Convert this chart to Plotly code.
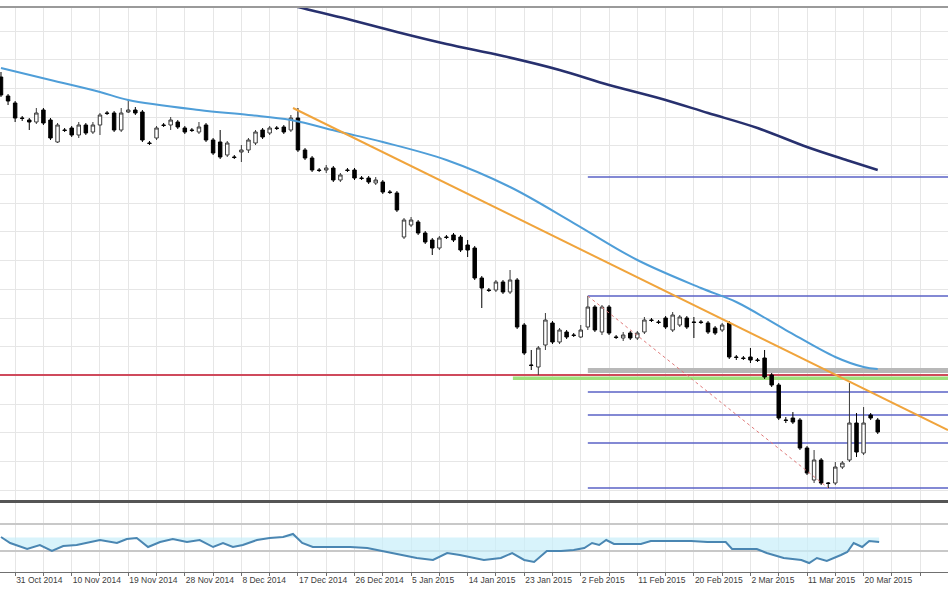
import plotly.graph_objects as go

# ---------------- data ----------------
opens = [1.2815,1.2720,1.2685,1.2610,1.2600,1.2590,1.2650,1.2600,1.2490,1.2550,
         1.2560,1.2525,1.2575,1.2540,1.2575,1.2635,1.2635,1.2550,1.2640,1.2650,
         1.2640,1.2485,1.2510,1.2575,1.2575,1.2590,1.2560,1.2550,1.2540,1.2575,
         1.2500,1.2490,1.2425,1.2415,1.2440,1.2450,1.2485,1.2550,1.2535,1.2560,
         1.2565,1.2550,1.2610,1.2450,1.2410,1.2350,1.2350,1.2360,1.2300,1.2350,
         1.2350,1.2310,1.2310,1.2285,1.2290,1.2240,1.2235,1.2015,1.2075,1.2090,
         1.2035,1.2000,1.1960,1.2015,1.2025,1.2015,1.1975,1.1960,1.1810,1.1750,
         1.1750,1.1790,1.1740,1.1800,1.1575,1.1375,1.1365,1.1475,1.1585,1.1490,
         1.1540,1.1525,1.1515,1.1565,1.1665,1.1540,1.1665,1.1515,1.1510,1.1535,
         1.1510,1.1540,1.1600,1.1590,1.1610,1.1550,1.1575,1.1610,1.1590,1.1590,
         1.1585,1.1560,1.1550,1.1585,1.1415,1.1410,1.1415,1.1400,1.1410,1.1325,
         1.1275,1.1100,1.1110,1.1100,1.0960,1.0800,1.0900,1.0785,1.0785,1.0865,
         1.0900,1.1085,1.0935,1.1125,1.1100]
highs = [1.2840,1.2730,1.2695,1.2620,1.2610,1.2660,1.2660,1.2610,1.2585,1.2560,
         1.2570,1.2590,1.2585,1.2590,1.2635,1.2645,1.2645,1.2660,1.2700,1.2665,
         1.2650,1.2495,1.2570,1.2585,1.2615,1.2600,1.2570,1.2560,1.2590,1.2585,
         1.2510,1.2550,1.2495,1.2425,1.2475,1.2510,1.2550,1.2560,1.2570,1.2570,
         1.2575,1.2625,1.2660,1.2460,1.2420,1.2360,1.2375,1.2370,1.2335,1.2360,
         1.2360,1.2320,1.2320,1.2315,1.2300,1.2250,1.2245,1.2110,1.2115,1.2100,
         1.2045,1.2010,1.2020,1.2025,1.2035,1.2025,1.2000,1.1970,1.1820,1.1760,
         1.1800,1.1800,1.1850,1.1810,1.1585,1.1450,1.1470,1.1635,1.1595,1.1560,
         1.1550,1.1535,1.1575,1.1720,1.1675,1.1675,1.1675,1.1525,1.1540,1.1545,
         1.1545,1.1615,1.1610,1.1600,1.1620,1.1640,1.1625,1.1620,1.1615,1.1600,
         1.1595,1.1570,1.1585,1.1595,1.1425,1.1420,1.1460,1.1410,1.1450,1.1335,
         1.1285,1.1115,1.1140,1.1110,1.0970,1.0950,1.0910,1.0790,1.0890,1.0895,
         1.1285,1.1135,1.1165,1.1135,1.1110]
lows = [1.2715,1.2675,1.2590,1.2595,1.2550,1.2580,1.2575,1.2500,1.2485,1.2540,
        1.2515,1.2510,1.2525,1.2530,1.2525,1.2625,1.2540,1.2540,1.2635,1.2625,
        1.2490,1.2475,1.2500,1.2565,1.2550,1.2555,1.2530,1.2540,1.2530,1.2490,
        1.2425,1.2405,1.2415,1.2405,1.2390,1.2435,1.2475,1.2505,1.2525,1.2550,
        1.2530,1.2540,1.2440,1.2400,1.2340,1.2340,1.2335,1.2290,1.2290,1.2340,
        1.2300,1.2300,1.2280,1.2275,1.2230,1.2230,1.2140,1.2005,1.2065,1.2025,
        1.1980,1.1925,1.1950,1.2005,1.1990,1.1940,1.1915,1.1800,1.1660,1.1740,
        1.1740,1.1730,1.1730,1.1555,1.1425,1.1350,1.1325,1.1450,1.1480,1.1480,
        1.1505,1.1515,1.1510,1.1550,1.1540,1.1525,1.1525,1.1505,1.1495,1.1500,
        1.1500,1.1530,1.1590,1.1580,1.1555,1.1540,1.1565,1.1555,1.1510,1.1580,
        1.1530,1.1525,1.1540,1.1405,1.1400,1.1400,1.1385,1.1390,1.1305,1.1265,
        1.1100,1.1085,1.1080,1.0950,1.0825,1.0785,1.0775,1.0760,1.0775,1.0855,
        1.0890,1.0915,1.0925,1.1100,1.1030]
closes = [1.2725,1.2695,1.2610,1.2608,1.2590,1.2635,1.2585,1.2510,1.2575,1.2548,
          1.2525,1.2575,1.2535,1.2575,1.2625,1.2633,1.2550,1.2635,1.2650,1.2635,
          1.2500,1.2483,1.2560,1.2573,1.2600,1.2565,1.2540,1.2548,1.2565,1.2500,
          1.2435,1.2415,1.2485,1.2413,1.2450,1.2500,1.2540,1.2515,1.2560,1.2558,
          1.2540,1.2610,1.2450,1.2410,1.2350,1.2348,1.2360,1.2300,1.2325,1.2348,
          1.2310,1.2308,1.2290,1.2300,1.2240,1.2238,1.2150,1.2100,1.2100,1.2035,
          1.1990,1.1960,1.2010,1.2013,1.2000,1.1950,1.1950,1.1810,1.1760,1.1748,
          1.1790,1.1740,1.1800,1.1565,1.1435,1.1373,1.1460,1.1600,1.1490,1.1550,
          1.1515,1.1523,1.1550,1.1665,1.1550,1.1665,1.1535,1.1513,1.1525,1.1510,
          1.1535,1.1600,1.1598,1.1588,1.1565,1.1625,1.1615,1.1565,1.1588,1.1588,
          1.1540,1.1535,1.1575,1.1415,1.1413,1.1408,1.1400,1.1398,1.1315,1.1275,
          1.1110,1.1098,1.1090,1.0960,1.0835,1.0900,1.0785,1.0783,1.0865,1.0885,
          1.1085,1.0940,1.1085,1.1110,1.1040]
bars = list(range(len(opens)))

# moving averages (sampled bar index, value)
ma50_x = [0, 7, 14, 18, 28, 35, 41, 48, 54, 63, 72, 81, 90, 99, 104, 111, 118, 122, 124]
ma50_v = [1.2860, 1.2800, 1.2740, 1.2700, 1.2650, 1.2625, 1.2600, 1.2540, 1.2490, 1.2400,
          1.2265, 1.2085, 1.1900, 1.1760, 1.1690, 1.1550, 1.1415, 1.1365, 1.1355]
ma200_x = [36, 42, 49, 56, 63, 71, 79, 86, 93, 100, 107, 114, 120, 124]
ma200_v = [1.3220, 1.3165, 1.3105, 1.3040, 1.2980, 1.2920, 1.2850, 1.2775, 1.2710, 1.2635,
           1.2560, 1.2465, 1.2395, 1.2350]

# oscillator (sub panel)
rsi_x = [0, 1.3, 3.7, 5.5, 7.2, 8.8, 10.7, 12.2, 14, 16.4, 17.8, 19.2, 20.8, 22.5, 24.3, 26.3,
         28.1, 30, 31.4, 32.8, 34.2, 36.2, 38, 39.9, 41.3, 42.6, 44.1, 47, 49.4, 51.8, 54, 56.4,
         58.8, 61.1, 63.1, 64.9, 66.9, 68.3, 70.7, 72.3, 74, 75.4, 77.2, 79.2, 81, 82.5, 83.6,
         84.6, 85.6, 86.7, 90.5, 91.9, 95.2, 97.6, 99.9, 102.5, 103.4, 106.9, 108.3, 110.7,
         113.2, 114.3, 115.4, 116.8, 118.8, 119.7, 120.6, 121.8, 122.8, 124.2]
rsi_v = [50.7, 41.9, 33.0, 38.9, 30.0, 37.4, 38.9, 41.9, 46.3, 41.9, 47.8, 49.3, 35.9, 43.3, 47.8, 43.3,
         46.3, 35.9, 41.9, 35.9, 38.9, 46.3, 49.3, 50.7, 55.2, 41.9, 35.9, 35.9, 35.9, 34.4, 30.0, 24.1,
         19.6, 16.7, 27.0, 24.1, 19.6, 16.7, 19.6, 27.0, 16.7, 13.7, 30.0, 30.0, 31.5, 34.4, 41.9,
         38.9, 46.3, 40.4, 40.4, 44.8, 44.8, 44.8, 43.3, 43.3, 33.0, 33.0, 27.0, 19.6,
         16.7, 12.2, 19.6, 15.2, 24.1, 28.5, 41.9, 35.9, 44.8, 43.3]
rsi_levels = [30, 70]

# drawing objects
trend_x = [41.3, 133.94]
trend_v = [1.2660, 1.1050]
fib_start = 83
fib_levels = [1.2315, 1.1720, 1.1240, 1.1125, 1.0985, 1.0760]
fib_band = [1.1335, 1.1360]
support_level = 1.1325
support_band_start = 72.4
support_band = [1.1300, 1.1318]
diag_x = [83, 117]
diag_v = [1.1720, 1.0760]

label_bars = [2, 10, 18, 26, 34, 42, 50, 58, 66, 74, 82, 90, 98, 106, 114, 122]
label_texts = ["31 Oct 2014", "10 Nov 2014", "19 Nov 2014", "28 Nov 2014", "8 Dec 2014",
               "17 Dec 2014", "26 Dec 2014", "5 Jan 2015", "14 Jan 2015", "23 Jan 2015",
               "2 Feb 2015", "11 Feb 2015", "20 Feb 2015", "2 Mar 2015", "11 Mar 2015",
               "20 Mar 2015"]
grid_bars = list(range(2, 134, 4))

# ---------------- figure ----------------
X0, X1 = -0.14, 133.94
fig = go.Figure()

fig.add_trace(go.Scatter(x=diag_x, y=diag_v, mode="lines",
                         line=dict(color="#e07a7a", width=1, dash="dot"),
                         hoverinfo="skip", showlegend=False))
fig.add_trace(go.Scatter(x=ma200_x, y=ma200_v, mode="lines", line_shape="spline",
                         line=dict(color="#27306e", width=2.5), hoverinfo="skip", showlegend=False))
fig.add_trace(go.Scatter(x=ma50_x, y=ma50_v, mode="lines", line_shape="spline",
                         line=dict(color="#4f9ed8", width=2), hoverinfo="skip", showlegend=False))
fig.add_trace(go.Scatter(x=trend_x, y=trend_v, mode="lines",
                         line=dict(color="#f0a43c", width=2), hoverinfo="skip", showlegend=False))

fig.add_trace(go.Candlestick(
    x=bars, open=opens, high=highs, low=lows, close=closes,
    increasing=dict(fillcolor="white", line=dict(color="#3a3a3a", width=1)),
    decreasing=dict(fillcolor="black", line=dict(color="black", width=1)),
    whiskerwidth=0, hoverinfo="skip", showlegend=False))

# oscillator with fill toward the 50 line
fig.add_trace(go.Scatter(x=[rsi_x[0], rsi_x[-1]], y=[50, 50], mode="lines",
                         line=dict(width=0, color="rgba(0,0,0,0)"), yaxis="y2",
                         hoverinfo="skip", showlegend=False))
fig.add_trace(go.Scatter(x=rsi_x, y=rsi_v, mode="lines", yaxis="y2", fill="tonexty",
                         fillcolor="rgba(200,238,250,0.7)",
                         line=dict(color="#4a86b2", width=2), hoverinfo="skip", showlegend=False))

shapes = []
for lv in fib_levels:
    shapes.append(dict(type="line", xref="x", yref="y", x0=fib_start, x1=X1, y0=lv, y1=lv,
                       line=dict(color="#5a62c6", width=1.5), layer="between"))
shapes.append(dict(type="rect", xref="x", yref="y", x0=fib_start, x1=X1,
                   y0=fib_band[0], y1=fib_band[1], fillcolor="#b8b8b8", line=dict(width=0),
                   layer="between"))
shapes.append(dict(type="rect", xref="x", yref="y", x0=support_band_start, x1=X1,
                   y0=support_band[0], y1=support_band[1], fillcolor="#9fe07c", line=dict(width=0),
                   layer="between"))
shapes.append(dict(type="line", xref="x", yref="y", x0=X0, x1=X1, y0=support_level, y1=support_level,
                   line=dict(color="#cf4a5c", width=2), layer="between"))
# panel separator and top border
shapes.append(dict(type="rect", xref="paper", yref="paper", x0=0, x1=1, y0=0.1221, y1=0.1274,
                   fillcolor="#555555", line=dict(width=0)))
shapes.append(dict(type="line", xref="paper", yref="paper", x0=0, x1=1, y0=1, y1=1,
                   line=dict(color="#9a9a9a", width=2)))

tick_text = [label_texts[label_bars.index(b)] if b in label_bars else "" for b in grid_bars]

fig.update_layout(
    width=948, height=593,
    margin=dict(l=0, r=0, t=7, b=21, autoexpand=False),
    plot_bgcolor="white", paper_bgcolor="white",
    showlegend=False,
    shapes=shapes,
    xaxis=dict(range=[X0, X1], anchor="y2", tickmode="array", tickvals=grid_bars,
               ticktext=tick_text, ticklabelposition="outside right", tickangle=0,
               automargin=False,
               tickfont=dict(family="Liberation Sans", size=8.5, color="#3c3c3c"),
               showgrid=True, gridcolor="#e6e6e6", gridwidth=1, zeroline=False,
               showline=True, linecolor="#707070", linewidth=1,
               ticks="outside", ticklen=3, tickcolor="#707070",
               rangeslider=dict(visible=False)),
    yaxis=dict(domain=[0.1274, 1], range=[1.0700, 1.3165], showticklabels=False,
               automargin=False,
               tickmode="linear", tick0=1.3045, dtick=0.01435,
               showgrid=True, gridcolor="#e6e6e6", zeroline=False, showline=False),
    yaxis2=dict(domain=[0, 0.1221], range=[-1.1, 101.1], showticklabels=False,
                automargin=False,
                tickmode="array", tickvals=rsi_levels, showgrid=True,
                gridcolor="#c8c8c8", gridwidth=2, zeroline=False, showline=False),
)

fig.write_html("out.html", config={"displayModeBar": False},
               post_script="document.body.style.margin='0';document.body.style.padding='0';")
